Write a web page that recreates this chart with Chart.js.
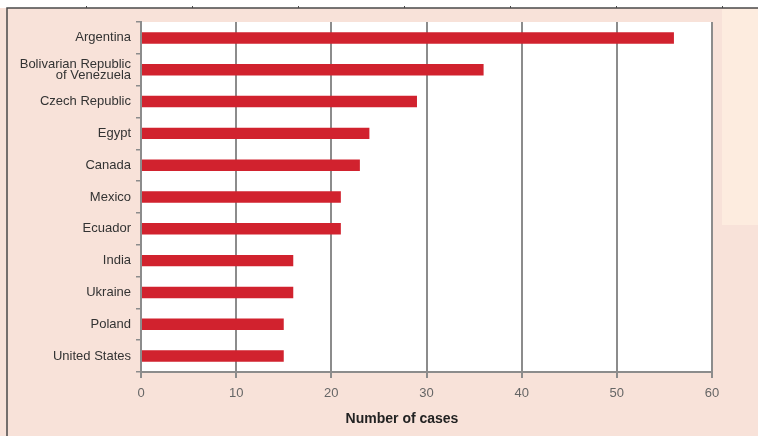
<!DOCTYPE html>
<html>
<head>
<meta charset="utf-8">
<script src="https://cdn.jsdelivr.net/npm/chart.js@4/dist/chart.umd.min.js"></script>
<style>
  html, body { margin: 0; padding: 0; background: #f8e2d9; }
  #wrap { width: 758px; height: 436px; position: relative; }
</style>
</head>
<body>
<div id="wrap"><canvas id="cases"></canvas></div>
<script>
// Länder und Fallzahlen
const countries = [
    'Argentina',
    ['Bolivarian Republic', 'of Venezuela'],
    'Czech Republic',
    'Egypt',
    'Canada',
    'Mexico',
    'Ecuador',
    'India',
    'Ukraine',
    'Poland',
    'United States'
];
const caseCounts = [56, 36, 29, 24, 23, 21, 21, 16, 16, 15, 15];
const xTicks = [0, 10, 20, 30, 40, 50, 60];
const xTitle = 'Number of cases';

const FONT = "'Liberation Sans Narrow', 'Arial Narrow', 'Liberation Sans', sans-serif";

// Hintergrund: Rahmen, heller Kasten rechts, weisse Plotfläche
const backdrop = {
    id: 'backdrop',
    beforeDraw(chart) {
        const { ctx, chartArea: a, width, height } = chart;
        ctx.save();
        ctx.fillStyle = '#f8e2d9';
        ctx.fillRect(0, 0, width, height);
        ctx.fillStyle = '#ffffff';
        ctx.fillRect(0, 0, width, 8);
        ctx.fillStyle = '#fdecdf';
        ctx.fillRect(722, 9, width - 722, 216);
        ctx.fillStyle = '#ffffff';
        ctx.fillRect(a.left, a.top, a.right - a.left, a.bottom - a.top);
        // dunkle Rahmenlinien oben und links
        ctx.strokeStyle = '#4a4a4a';
        ctx.lineWidth = 1.5;
        ctx.beginPath();
        ctx.moveTo(7, height);
        ctx.lineTo(7, 8);
        ctx.lineTo(width, 8);
        ctx.stroke();
        ctx.lineWidth = 1;
        for (let x = 86; x < width; x += 106) {
            ctx.beginPath();
            ctx.moveTo(x + 0.5, 6);
            ctx.lineTo(x + 0.5, 8);
            ctx.stroke();
        }
        ctx.restore();
    },
    // Achsentitel etwas links von der Mitte
    afterDraw(chart) {
        const { ctx } = chart;
        ctx.save();
        ctx.font = `bold 14px ${FONT}`;
        ctx.fillStyle = '#222222';
        ctx.textAlign = 'center';
        ctx.textBaseline = 'middle';
        ctx.fillText(xTitle, 402, 419);
        ctx.restore();
    }
};

new Chart(document.getElementById('cases'), {
    type: 'bar',
    data: {
        labels: countries,
        datasets: [{
            data: caseCounts,
            backgroundColor: '#d1222e',
            barPercentage: 0.36,
            categoryPercentage: 1
        }]
    },
    options: {
        indexAxis: 'y',
        responsive: true,
        maintainAspectRatio: false,
        animation: false,
        layout: { padding: { left: 0, top: 22, right: 46, bottom: 0 } },
        plugins: {
            legend: { display: false },
            tooltip: { enabled: false }
        },
        scales: {
            x: {
                min: 0,
                max: 60,
                afterBuildTicks: scale => {
                    scale.ticks = xTicks.map(v => ({ value: v }));
                },
                afterFit: scale => { scale.height = 64; },
                grid: {
                    color: '#8c8c8c',
                    lineWidth: 2,
                    tickLength: 6,
                    drawOnChartArea: true
                },
                border: { display: true, color: '#8c8c8c', width: 2 },
                ticks: {
                    color: '#666666',
                    padding: 8,
                    font: { family: FONT, size: 13 }
                }
            },
            y: {
                afterFit: scale => { scale.width = 141; },
                grid: {
                    offset: true,
                    drawOnChartArea: false,
                    color: '#8c8c8c',
                    lineWidth: 1.5,
                    tickLength: 5
                },
                border: { display: true, color: '#8c8c8c', width: 2 },
                ticks: {
                    color: '#333333',
                    padding: 5,
                    font: { family: FONT, size: 13, lineHeight: 0.85 }
                }
            }
        }
    },
    plugins: [backdrop]
});
</script>
</body>
</html>
